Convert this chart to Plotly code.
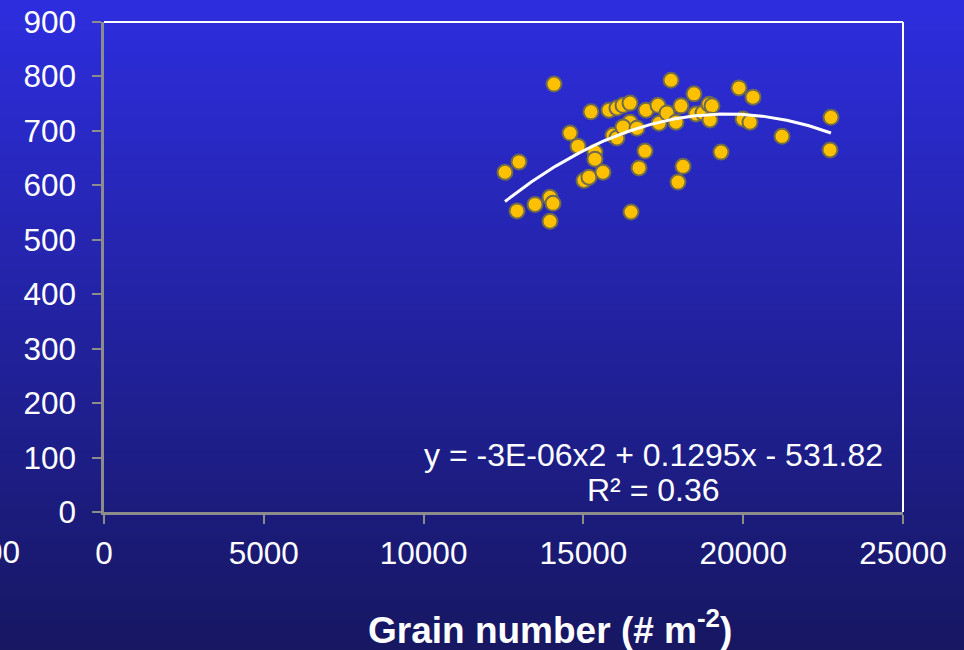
import plotly.graph_objects as go
import numpy as np

# Grain number (# m-2) and grain weight values for each plot
grain_number = [12547, 12985, 12923, 13486, 13955, 14049, 13955, 14080, 14581, 14831,
                15018, 15174, 15237, 15362, 15362, 15613, 15800, 15926, 16051, 16051,
                16239, 16458, 16458, 16239, 16677, 16490, 16740, 16928, 16959, 17334,
                17366, 17616, 17741, 17897, 17960, 18054, 18117, 18461, 18524, 18743,
                18930, 19024, 18961, 19305, 19869, 19994, 20213, 20307, 21215, 22747,
                22716]
grain_value = [624, 643, 553, 565, 578, 567, 534, 786, 696, 672,
               609, 615, 735, 661, 648, 624, 738, 692, 687, 742,
               747, 751, 716, 707, 705, 551, 632, 663, 738, 747,
               714, 733, 793, 716, 606, 746, 635, 768, 731, 733,
               749, 746, 720, 661, 779, 722, 716, 762, 690, 725,
               665]

# Quadratic trend coefficients (label shows them rounded)
coef_a = -3.32e-06
coef_b = 0.1295
coef_c = -531.82
eq_label = "y = -3E-06x2 + 0.1295x - 531.82"
r2_label = "R² = 0.36"

x_ticks = [0, 5000, 10000, 15000, 20000, 25000]
y_ticks = [0, 100, 200, 300, 400, 500, 600, 700, 800, 900]

W, H = 964, 650
ML, MR, MT, MB = 104, 61, 22, 138
PW, PH = W - ML - MR, H - MT - MB

fig = go.Figure()

fig.add_trace(go.Scatter(x=grain_number, y=grain_value, mode="markers",
                         marker=dict(size=15, color="#FFC000",
                                     line=dict(color="#6e6a50", width=2)),
                         showlegend=False))

# fitted curve over the observed range, drawn on top of the points
xf = np.linspace(min(grain_number), max(grain_number), 200)
yf = coef_a * xf ** 2 + coef_b * xf + coef_c
fig.add_trace(go.Scatter(x=xf, y=yf, mode="lines",
                         line=dict(color="white", width=3),
                         hoverinfo="skip", showlegend=False))

# vertical gradient background built from thin bands
shapes = []
n_bands = 130
top = np.array([46, 46, 224])
bot = np.array([23, 23, 98])
for i in range(n_bands):
    p0 = i * H / n_bands - (5 if i == 0 else 0)
    p1 = (i + 1) * H / n_bands + 0.6
    t = (i + 0.5) / n_bands
    c = top + (bot - top) * t
    shapes.append(dict(type="rect", xref="paper", yref="paper",
                       x0=-ML / PW - 0.05, x1=1 + MR / PW + 0.05,
                       y0=(H - MB - p1) / PH, y1=(H - MB - p0) / PH,
                       line=dict(width=0),
                       fillcolor="rgb(%d,%d,%d)" % tuple(c.astype(int)),
                       layer="below"))

# white frame on the top and right sides
shapes.append(dict(type="line", xref="paper", yref="paper", x0=0, x1=1, y0=1, y1=1,
                   line=dict(color="white", width=2)))
shapes.append(dict(type="line", xref="paper", yref="paper", x0=1, x1=1, y0=0, y1=1,
                   line=dict(color="white", width=2)))

font_main = "Liberation Sans, Arial, sans-serif"

annotations = [
    dict(x=(653 - ML) / PW, y=(H - MB - 455) / PH, xref="paper", yref="paper",
         text=eq_label, showarrow=False, xanchor="center", yanchor="middle",
         font=dict(family=font_main, size=32, color="white")),
    dict(x=(653 - ML) / PW, y=(H - MB - 490) / PH, xref="paper", yref="paper",
         text=r2_label, showarrow=False, xanchor="center", yanchor="middle",
         font=dict(family=font_main, size=32, color="white")),
    dict(x=(550 - ML) / PW, y=(H - MB - 627) / PH, xref="paper", yref="paper",
         text="<b>Grain number (# m<sup>-2</sup>)</b>", showarrow=False,
         xanchor="center", yanchor="middle",
         font=dict(family=font_main, size=37, color="white")),
    dict(x=(22 - ML) / PW, y=(H - MB - 552) / PH, xref="paper", yref="paper",
         text="00", showarrow=False, xanchor="right", yanchor="middle",
         font=dict(family=font_main, size=31.5, color="white")),
]

axis_common = dict(showgrid=False, zeroline=False, showline=True, automargin=False,
                   linecolor="#8c8c8c", linewidth=2.5,
                   ticks="outside", ticklen=9, tickwidth=2, tickcolor="#8c8c8c",
                   tickfont=dict(family=font_main, size=31.5, color="white"))

fig.update_layout(
    width=W, height=H,
    margin=dict(l=ML, r=MR, t=MT, b=MB, pad=0, autoexpand=False),
    paper_bgcolor="rgb(23,23,98)",
    plot_bgcolor="rgba(0,0,0,0)",
    shapes=shapes,
    annotations=annotations,
    xaxis=dict(range=[0, 25000], tickvals=x_ticks,
               ticktext=[str(v) for v in x_ticks], ticklabelstandoff=2,
               **axis_common),
    yaxis=dict(range=[0, 900], tickvals=y_ticks,
               ticktext=[str(v) for v in y_ticks], ticklabelstandoff=10,
               **axis_common),
    hovermode=False,
)

fig.write_html("out.html")
